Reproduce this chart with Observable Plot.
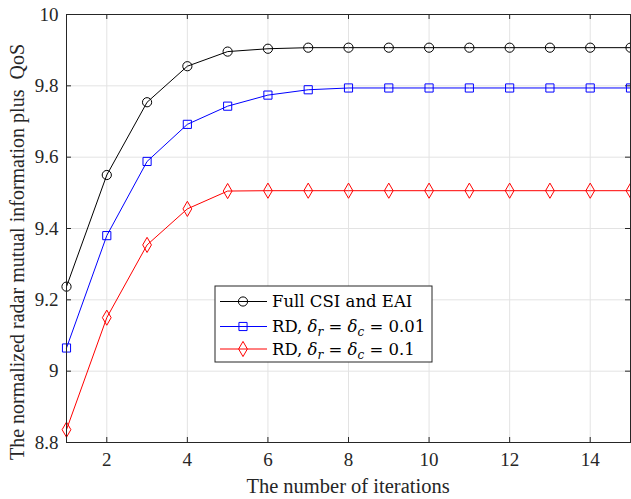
<!DOCTYPE html>
<html>
<head>
<meta charset="utf-8">
<script src="https://cdn.jsdelivr.net/npm/d3@7"></script>
<script src="https://cdn.jsdelivr.net/npm/@observablehq/plot@0.6"></script>
<style>
  html, body { margin: 0; padding: 0; background: #fff; }
  #chart { width: 631px; height: 499px; }
  #chart svg text { font-family: 'Liberation Serif', 'Times New Roman', serif; }
  #chart svg g.legend text { font-family: 'DejaVu Serif', serif; }
</style>
</head>
<body>
<div id="chart"></div>
<script>
const iterations = [1,2,3,4,5,6,7,8,9,10,11,12,13,14,15];
const fullCSI = [9.237,9.550,9.754,9.855,9.896,9.904,9.907,9.907,9.907,9.907,9.907,9.907,9.907,9.907,9.907];
const rd001   = [9.065,9.380,9.588,9.692,9.743,9.774,9.789,9.794,9.794,9.794,9.794,9.794,9.794,9.794,9.794];
const rd01    = [8.836,9.150,9.354,9.455,9.505,9.506,9.506,9.506,9.506,9.506,9.506,9.506,9.506,9.506,9.506];
const xTicks = [2,4,6,8,10,12,14];
const yTicks = [8.8,9,9.2,9.4,9.6,9.8,10];
const xDomain = [1,15];
const yDomain = [8.8,10];
const seriesNames = ["Full CSI and EAI", "RD001", "RD01"];
const seriesColors = ["#000000", "#0000ff", "#ff0000"];
const seriesSymbols = ["circle", "square", "diamond"];
const xLabel = "The number of iterations";
const yLabel = "The normalized radar mutual information plus  QoS";

const seriesValues = [fullCSI, rd001, rd01];
const data = [];
seriesValues.forEach((vals, s) => {
  vals.forEach((v, i) => data.push({series: seriesNames[s], x: iterations[i], y: v}));
});

const font = "Liberation Serif";
const xTickLen = (yDomain[1]-yDomain[0]) * 5 / 428;
const yTickLen = (xDomain[1]-xDomain[0]) * 5 / 564;

const plot = Plot.plot({
  width: 631,
  height: 499,
  marginLeft: 66,
  marginRight: 1,
  marginTop: 14,
  marginBottom: 57,
  style: {fontFamily: font, fontSize: "19px", color: "#262626", background: "#fff"},
  x: {domain: xDomain},
  y: {domain: yDomain},
  color: {domain: seriesNames, range: seriesColors},
  symbol: {domain: seriesNames, range: seriesSymbols},
  marks: [
    Plot.gridX(xTicks, {stroke: "#e3e3e3", strokeOpacity: 1}),
    Plot.gridY(yTicks, {stroke: "#e3e3e3", strokeOpacity: 1}),
    Plot.axisX({ticks: xTicks, tickSize: 0, tickPadding: 10, label: null, tickFormat: d => String(d), fontSize: 19, fontFamily: font}),
    Plot.axisY({ticks: yTicks, tickSize: 0, tickPadding: 8, label: null, tickFormat: d => String(+d.toFixed(1)), fontSize: 19, fontFamily: font}),
    Plot.ruleX(xTicks, {x: d => d, y1: yDomain[0], y2: yDomain[0] + xTickLen, stroke: "#262626"}),
    Plot.ruleX(xTicks, {x: d => d, y1: yDomain[1], y2: yDomain[1] - xTickLen, stroke: "#262626"}),
    Plot.ruleY(yTicks, {y: d => d, x1: xDomain[0], x2: xDomain[0] + yTickLen, stroke: "#262626"}),
    Plot.ruleY(yTicks, {y: d => d, x1: xDomain[1], x2: xDomain[1] - yTickLen, stroke: "#262626"}),
    Plot.line(data, {x: "x", y: "y", z: "series", stroke: "series", strokeWidth: 1}),
    Plot.dot(data, {x: "x", y: "y", stroke: "series", symbol: "series", r: 4.6, fill: "none", strokeWidth: 1}),
    Plot.frame({stroke: "#262626", strokeWidth: 1})
  ]
});
document.getElementById("chart").appendChild(plot);

const svg = d3.select(plot);
const xs = plot.scale("x"), ys = plot.scale("y");
const cx = (xs.range[0] + xs.range[1]) / 2;
const cy = (ys.range[0] + ys.range[1]) / 2;

// axis labels
svg.append("text")
  .attr("x", cx).attr("y", 493)
  .attr("text-anchor", "middle")
  .attr("font-size", 20.5).attr("fill", "#262626")
  .text(xLabel);
svg.append("text")
  .attr("transform", `translate(24,${cy + 24}) rotate(-90)`)
  .attr("text-anchor", "middle")
  .attr("font-size", 20).attr("fill", "#262626")
  .text(yLabel);

// legend
const lg = svg.append("g").attr("class", "legend").attr("transform", "translate(215,286)");
lg.append("rect").attr("width", 217).attr("height", 76)
  .attr("fill", "#fff").attr("stroke", "#262626").attr("stroke-width", 1);
const rowY = [15.5, 40.5, 63];
const sym = {circle: d3.symbolCircle, square: d3.symbolSquare, diamond: d3.symbolDiamond};
seriesNames.forEach((name, i) => {
  const g = lg.append("g").attr("transform", `translate(0,${rowY[i]})`);
  g.append("line").attr("x1", 5).attr("x2", 52).attr("y1", 0).attr("y2", 0)
    .attr("stroke", seriesColors[i]).attr("stroke-width", 1);
  g.append("path").attr("transform", "translate(28,0)")
    .attr("d", d3.symbol(sym[seriesSymbols[i]], Math.PI * 4.6 * 4.6)())
    .attr("fill", "none").attr("stroke", seriesColors[i]).attr("stroke-width", 1);
  const t = g.append("text").attr("x", 57).attr("y", 0).attr("dy", "0.35em")
    .attr("text-anchor", "start")
    .attr("font-size", 16.5).attr("fill", "#000");
  if (i === 0) {
    t.text("Full CSI and EAI");
  } else {
    t.append("tspan").text("RD, ");
    t.append("tspan").attr("font-style", "italic").text("δ");
    t.append("tspan").attr("font-style", "italic").attr("font-size", 12).attr("dy", 4).text("r");
    t.append("tspan").attr("dy", -4).text(" = ");
    t.append("tspan").attr("font-style", "italic").text("δ");
    t.append("tspan").attr("font-style", "italic").attr("font-size", 12).attr("dy", 4).text("c");
    t.append("tspan").attr("dy", -4).text(i === 1 ? " = 0.01" : " = 0.1");
  }
});
</script>
</body>
</html>
